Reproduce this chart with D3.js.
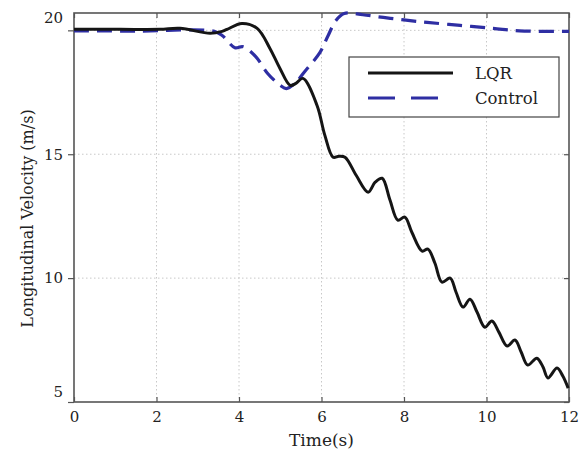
<!DOCTYPE html>
<html>
<head>
<meta charset="utf-8">
<script src="https://cdn.jsdelivr.net/npm/d3@7"></script>
<style>
  body { margin: 0; background: #fff; }
  text { font-family: "DejaVu Serif", serif; fill: #222; }
</style>
</head>
<body>
<div id="chart"></div>
<script>
// values
const lqrT = [0, 1.12, 2.08, 2.57, 3.3, 3.59, 3.71, 4.07, 4.44, 4.75, 4.99, 5.24, 5.38, 5.55, 5.89, 6.08, 6.28, 6.42, 6.57, 6.84, 7.13, 7.3, 7.47, 7.66, 7.85, 8.02, 8.19, 8.44, 8.58, 8.75, 8.92, 9.12, 9.26, 9.43, 9.6, 9.77, 9.96, 10.13, 10.3, 10.5, 10.69, 10.84, 11.0, 11.22, 11.37, 11.49, 11.71, 11.85, 11.98];
const lqrV = [20.04, 20.04, 20.04, 20.08, 19.88, 19.96, 20.04, 20.28, 20.08, 19.27, 18.47, 17.78, 17.86, 18.06, 16.98, 15.77, 14.88, 14.92, 14.88, 14.15, 13.47, 13.87, 14.03, 13.15, 12.34, 12.46, 11.85, 11.09, 11.17, 10.6, 9.84, 10.0, 9.44, 8.83, 9.15, 8.63, 8.02, 8.27, 7.82, 7.26, 7.5, 7.02, 6.49, 6.77, 6.41, 5.97, 6.37, 6.05, 5.56];
const ctrlT = [0, 1.5, 3.4, 3.6, 3.9, 4.1, 4.4, 4.7, 5.0, 5.15, 5.35, 5.6, 5.96, 6.15, 6.35, 6.55, 7.0, 7.5, 8.0, 8.56, 9.36, 10.16, 10.8, 12];
const ctrlV = [19.98, 19.97, 19.96, 19.78, 19.3, 19.34, 18.95, 18.25, 17.78, 17.65, 17.85, 18.35, 19.1, 19.75, 20.4, 20.68, 20.63, 20.52, 20.42, 20.32, 20.2, 20.08, 19.98, 19.96];
const xTicks = [0, 2, 4, 6, 8, 10, 12];
const yTicks = [5, 10, 15, 20];
const seriesNames = ['LQR', 'Control'];

const width = 581, height = 453;
const plot = { left: 74, right: 569, top: 13, bottom: 402 };

const svg = d3.select('#chart').append('svg')
  .attr('width', width).attr('height', height);

const x = d3.scaleLinear().domain([0, 12]).range([plot.left, plot.right]);
const y = d3.scaleLinear().domain([5, 20.7]).range([plot.bottom, plot.top]);

// grid
const grid = svg.append('g').attr('stroke', '#c8c8c8').attr('stroke-dasharray', '1.5,2.5');
grid.selectAll('.gx').data(xTicks.slice(1, -1)).join('line')
  .attr('x1', d => x(d)).attr('x2', d => x(d))
  .attr('y1', plot.top).attr('y2', plot.bottom);
grid.selectAll('.gy').data(yTicks.slice(1)).join('line')
  .attr('y1', d => y(d)).attr('y2', d => y(d))
  .attr('x1', plot.left).attr('x2', plot.right);

// axes
svg.append('g')
  .attr('transform', `translate(0,${plot.bottom})`)
  .call(d3.axisBottom(x).tickValues(xTicks).tickSize(-5).tickPadding(9));
svg.append('g')
  .attr('transform', `translate(0,${plot.top})`)
  .call(d3.axisTop(x).tickValues(xTicks).tickSize(-5).tickFormat(''));
const yAxis = svg.append('g')
  .attr('transform', `translate(${plot.left},0)`)
  .call(d3.axisLeft(y).tickValues(yTicks).tickSize(6).tickPadding(5));
svg.append('g')
  .attr('transform', `translate(${plot.right},0)`)
  .call(d3.axisRight(y).tickValues(yTicks).tickSize(-5).tickFormat(''));

svg.selectAll('.domain').remove();
svg.selectAll('.tick line').attr('stroke', '#555').attr('stroke-width', 1.2);
svg.selectAll('.tick text').style('font-family', '"DejaVu Serif", serif')
  .style('font-size', '15px').attr('fill', '#222');
// labels sit a bit off their ticks in the original
yAxis.selectAll('.tick text').filter(d => d === 20).attr('dy', '-0.5em');
yAxis.selectAll('.tick text').filter(d => d === 5).attr('dy', '-0.35em');

// frame
svg.append('rect')
  .attr('x', plot.left).attr('y', plot.top)
  .attr('width', plot.right - plot.left).attr('height', plot.bottom - plot.top)
  .attr('fill', 'none').attr('stroke', '#555').attr('stroke-width', 1.6);

const line = d3.line().x(d => x(d[0])).y(d => y(d[1])).curve(d3.curveCatmullRom.alpha(0.5));

svg.append('path')
  .datum(d3.zip(ctrlT, ctrlV))
  .attr('d', line)
  .attr('fill', 'none').attr('stroke', '#2e2ea3').attr('stroke-width', 3.2)
  .attr('stroke-dasharray', '15,8');

svg.append('path')
  .datum(d3.zip(lqrT, lqrV))
  .attr('d', line)
  .attr('fill', 'none').attr('stroke', '#151515').attr('stroke-width', 3);

// legend
const lg = svg.append('g');
lg.append('rect').attr('x', 349).attr('y', 57).attr('width', 210).attr('height', 60)
  .attr('fill', '#fff').attr('stroke', '#444').attr('stroke-width', 1.2);
lg.append('line').attr('x1', 368).attr('x2', 453).attr('y1', 73).attr('y2', 73)
  .attr('stroke', '#151515').attr('stroke-width', 3);
lg.append('line').attr('x1', 368).attr('x2', 453).attr('y1', 98).attr('y2', 98)
  .attr('stroke', '#2e2ea3').attr('stroke-width', 3.2).attr('stroke-dasharray', '27,16');
lg.selectAll('.lt').data(seriesNames).join('text')
  .attr('x', 475).attr('y', (d, i) => 73 + i * 25).attr('dy', '0.35em')
  .style('font-size', '16.5px').text(d => d);

// axis titles
svg.append('text')
  .attr('x', (plot.left + plot.right) / 2).attr('y', 446)
  .attr('text-anchor', 'middle').style('font-size', '17px').text('Time(s)');
svg.append('text')
  .attr('transform', `translate(27,${(plot.top + plot.bottom) / 2 + 11}) rotate(-90)`)
  .attr('text-anchor', 'middle').attr('dy', '0.35em').style('font-size', '16px')
  .text('Longitudinal Velocity (m/s)');
</script>
</body>
</html>
